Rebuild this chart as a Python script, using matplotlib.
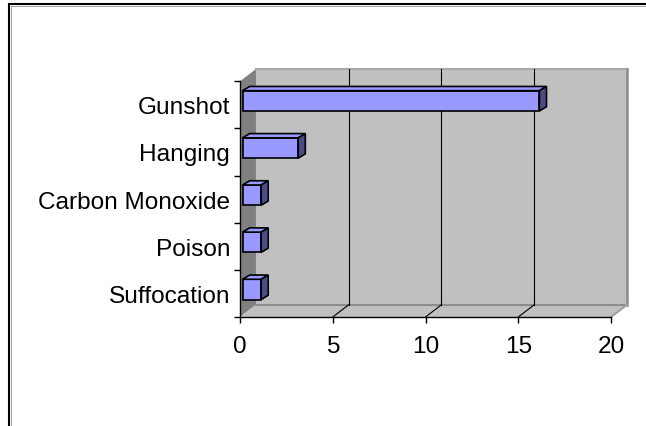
"""
Horizontal 3-D style bar chart (Excel look): causes of death counts
"""

import matplotlib
import numpy as np
from matplotlib import pyplot as plt
from matplotlib.lines import Line2D
from matplotlib.patches import Polygon, Rectangle

matplotlib.use("Agg")

categories = ['Gunshot', 'Hanging', 'Carbon Monoxide', 'Poison', 'Suffocation']
counts = [16, 3, 1, 1, 1]
x_ticks = [0, 5, 10, 15, 20]
x_max = 20

# fake 3-D depth, in data units
WALL_DX, WALL_DY = 0.86, 0.26
BAR_X0, BAR_Y0 = 0.14, 0.085
BAR_DX, BAR_DY = 0.38, 0.09
BAR_H = 0.43

BAR_FRONT = '#9999FF'
BAR_SIDE = '#4D4D85'


def plot_chart():
    plt.rcParams['font.family'] = ['Liberation Sans', 'DejaVu Sans']
    fs = 17.6

    fig = plt.figure(figsize=(6.46, 4.27), dpi=100)
    ax = fig.add_axes([240 / 646, 109 / 427, 387 / 646, 248 / 427])
    ax.set_facecolor('none')

    n = len(categories)
    ypos = n - 0.5 - np.arange(n)

    # walls and floor
    ax.add_patch(Rectangle((WALL_DX, WALL_DY), x_max, n, fc='#C0C0C0', ec='none', zorder=0))
    ax.add_patch(Polygon([(0, 0), (WALL_DX, WALL_DY), (WALL_DX, n + WALL_DY), (0, n)],
                         closed=True, fc='#808080', ec='none', zorder=0))
    ax.add_patch(Polygon([(0, 0), (x_max, 0), (x_max + WALL_DX, WALL_DY), (WALL_DX, WALL_DY)],
                         closed=True, fc='#C0C0C0', ec='none', zorder=0))
    ax.plot([WALL_DX, x_max + WALL_DX], [n + WALL_DY, n + WALL_DY], color='#A8A8A8', lw=1.5,
            clip_on=False, zorder=1)
    ax.plot([x_max + WALL_DX, x_max + WALL_DX], [WALL_DY, n + WALL_DY], color='#8C8C8C', lw=1.8,
            clip_on=False, zorder=1)
    ax.plot([WALL_DX, x_max + WALL_DX], [WALL_DY, WALL_DY], color='#8C8C8C', lw=1.5,
            clip_on=False, zorder=1)
    ax.plot([x_max, x_max + WALL_DX], [0, WALL_DY], color='#A0A0A0', lw=1.5,
            clip_on=False, zorder=1)

    # gridlines on back wall + floor
    for t in x_ticks[1:-1]:
        ax.plot([t + WALL_DX, t + WALL_DX], [WALL_DY, n + WALL_DY], color='black', lw=0.8, zorder=1)
        ax.plot([t, t + WALL_DX], [0, WALL_DY], color='black', lw=0.8, zorder=1)

    # bars: front face, then top and side faces
    ax.barh(ypos + BAR_Y0, counts, left=BAR_X0, height=BAR_H, color=BAR_FRONT,
            edgecolor='black', linewidth=1.2, zorder=3)
    for y, v in zip(ypos, counts):
        y_bot = y + BAR_Y0 - BAR_H / 2
        y_top = y + BAR_Y0 + BAR_H / 2
        x0 = BAR_X0
        x1 = BAR_X0 + v
        top = [(x0, y_top), (x1, y_top), (x1 + BAR_DX, y_top + BAR_DY), (x0 + BAR_DX, y_top + BAR_DY)]
        side = [(x1, y_bot), (x1, y_top), (x1 + BAR_DX, y_top + BAR_DY), (x1 + BAR_DX, y_bot + BAR_DY)]
        ax.add_patch(Polygon(top, closed=True, fc=BAR_FRONT, ec='black', lw=1.2, zorder=3))
        ax.add_patch(Polygon(side, closed=True, fc=BAR_SIDE, ec='black', lw=1.2, zorder=3))

    ax.set_xlim(0, x_max + WALL_DX)
    ax.set_ylim(0, n + WALL_DY)

    ax.spines['top'].set_visible(False)
    ax.spines['right'].set_visible(False)
    ax.spines['left'].set_bounds(0, n)
    ax.spines['bottom'].set_bounds(0, x_max)
    for s in ('left', 'bottom'):
        ax.spines[s].set_linewidth(1.0)
        ax.spines[s].set_zorder(4)

    ax.set_xticks(x_ticks)
    ax.set_xticklabels([str(t) for t in x_ticks])
    ax.tick_params(axis='x', length=4, width=1, pad=9, labelsize=fs)
    ax.set_yticks(np.arange(n + 1))
    ax.set_yticklabels([])
    ax.set_yticks(ypos, minor=True)
    ax.set_yticklabels(categories, minor=True)
    ax.tick_params(axis='y', which='major', length=4, width=1)
    ax.tick_params(axis='y', which='minor', length=0, pad=7.2, labelsize=fs)

    # chart area border (only left/top visible in the crop)
    fig.add_artist(Line2D([9 / 646, 9 / 646], [0, 1 - 5 / 427], color='black', lw=1.5))
    fig.add_artist(Line2D([9 / 646, 1], [1 - 5 / 427, 1 - 5 / 427], color='black', lw=1.5))
    fig.add_artist(Line2D([10.7 / 646, 10.7 / 646], [0, 1 - 6.7 / 427], color='#A0A0A0', lw=0.7))
    fig.add_artist(Line2D([10.7 / 646, 1], [1 - 6.7 / 427, 1 - 6.7 / 427], color='#A0A0A0', lw=0.7))

    fig.savefig('out.png', dpi=100, facecolor='white')


if __name__ == "__main__":
    plot_chart()
